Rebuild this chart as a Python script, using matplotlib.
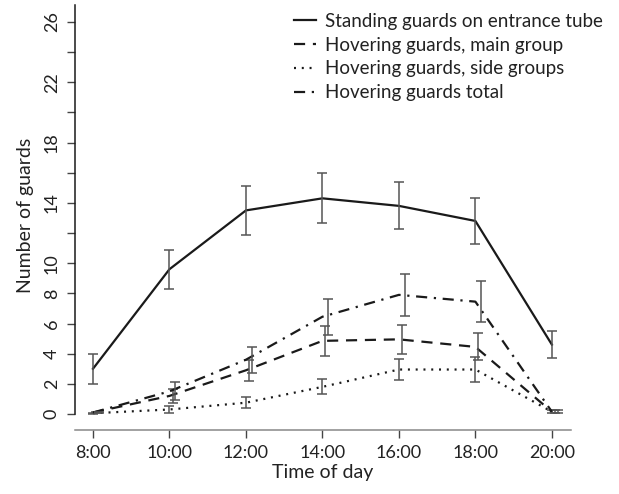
import numpy as np
import matplotlib
matplotlib.use("Agg")
import matplotlib.pyplot as plt

# guard counts over the day
hours = [8, 10, 12, 14, 16, 18, 20]
hour_labels = ["8:00", "10:00", "12:00", "14:00", "16:00", "18:00", "20:00"]

standing = [3.0, 9.6, 13.5, 14.3, 13.8, 12.8, 4.6]
standing_err = [1.0, 1.3, 1.65, 1.65, 1.55, 1.5, 0.9]

main_group = [0.1, 1.2, 2.9, 4.85, 4.95, 4.45, 0.15]
main_err = [0.05, 0.45, 0.7, 1.0, 0.95, 0.9, 0.1]

side_groups = [0.05, 0.3, 0.75, 1.8, 2.95, 2.95, 0.15]
side_err = [0.03, 0.2, 0.35, 0.5, 0.7, 0.8, 0.1]

total = [0.1, 1.5, 3.6, 6.45, 7.9, 7.45, 0.15]
total_err = [0.05, 0.6, 0.85, 1.2, 1.4, 1.35, 0.1]

labels = ["Standing guards on entrance tube", "Hovering guards, main group",
          "Hovering guards, side groups", "Hovering guards total"]

plt.rcParams['font.family'] = ['Lato', 'DejaVu Sans']

fig = plt.figure(figsize=(6.19, 4.94), dpi=100)
ax = fig.add_axes([75/619, 64/494, 496/619, 430/494])

dark = "#1a1a1a"
errc = "#555555"
styles = [
    ("-", standing, standing_err, 0.0),
    ((0, (5, 3.5)), main_group, main_err, 0.08),
    ((0, (0.9, 2.6)), side_groups, side_err, 0.0),
    ((0, (5, 3, 1, 3)), total, total_err, 0.15),
]

x = np.array(hours, dtype=float)
for (ls, vals, err, off), lab in zip(styles, labels):
    ax.plot(x, vals, color=dark, lw=1.6, ls=ls, label=lab)
    ax.errorbar(x + off, vals, yerr=err, fmt="none", ecolor=errc,
                elinewidth=1.1, capsize=3.3, capthick=1.1)

ax.set_xlim(7.53, 20.5)
ax.set_ylim(-1.06, 27.45)

for s in ["top", "right"]:
    ax.spines[s].set_visible(False)
ax.spines["left"].set_bounds(0, 27.1)
ax.spines["left"].set_color(dark)
ax.spines["bottom"].set_color("#888888")
ax.spines["left"].set_linewidth(1.1)
ax.spines["bottom"].set_linewidth(1.1)

ax.set_xticks(hours)
ax.set_xticklabels(hour_labels, fontsize=13, color="#222222")
yt = np.arange(0, 27, 2)
ax.set_yticks(yt)
ax.set_yticklabels([str(v) if (v <= 10 or v % 4 == 2) else "" for v in yt],
                   rotation=90, va="center", fontsize=13, color="#222222")
ax.tick_params(axis="both", length=6, width=1.0, color="#444444", pad=5)

ax.set_xlabel("Time of day", fontsize=14, color="#222222", labelpad=2)
ax.set_ylabel("Number of guards", fontsize=14, color="#222222", labelpad=7)

leg = ax.legend(loc="upper right", bbox_to_anchor=(1.087, 0.996), frameon=False,
                fontsize=13.5, handlelength=1.15, handletextpad=0.5,
                labelspacing=0.36, borderaxespad=0.2)
for t in leg.get_texts():
    t.set_color("#222222")

fig.savefig("out.png", dpi=100)
